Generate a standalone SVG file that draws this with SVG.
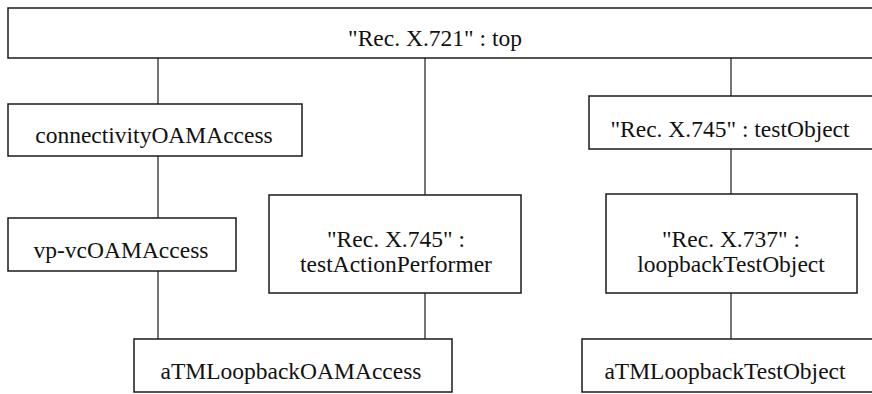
<svg xmlns="http://www.w3.org/2000/svg" width="872" height="394" viewBox="0 0 872 394">
<style>
.box{fill:#fff;stroke:#1a1a1a;stroke-width:1.5}
.ln{stroke:#1a1a1a;stroke-width:1.2;fill:none}
.t{font-size:23.5px;fill:#111;text-anchor:middle}
</style>
<rect width="872" height="394" fill="#fff"/>
<g id="connectors">
<line class="ln" x1="158" y1="58" x2="158" y2="104"/>
<line class="ln" x1="158" y1="156" x2="158" y2="218"/>
<line class="ln" x1="158" y1="271" x2="158" y2="339"/>
<line class="ln" x1="425" y1="58" x2="425" y2="195"/>
<line class="ln" x1="425" y1="293" x2="425" y2="339"/>
<line class="ln" x1="731" y1="58" x2="731" y2="96"/>
<line class="ln" x1="731" y1="149" x2="731" y2="194"/>
<line class="ln" x1="731" y1="293" x2="731" y2="339"/>
</g>
<g font-family="Liberation Serif, DejaVu Serif, serif">
<g id="top">
<rect class="box" x="8" y="8" width="870" height="50"/>
<text class="t" x="435" y="46">"Rec. X.721" : top</text>
</g>
<g id="connectivityOAMAccess">
<rect class="box" x="8" y="104" width="294" height="52"/>
<text class="t" x="154" y="143">connectivityOAMAccess</text>
</g>
<g id="vp-vcOAMAccess">
<rect class="box" x="8" y="218" width="228" height="53"/>
<text class="t" x="121" y="258">vp-vcOAMAccess</text>
</g>
<g id="testActionPerformer">
<rect class="box" x="269" y="195" width="252" height="98"/>
<text class="t" x="396" y="247">"Rec. X.745" :</text>
<text class="t" x="396" y="272">testActionPerformer</text>
</g>
<g id="testObject">
<rect class="box" x="589" y="96" width="290" height="53"/>
<text class="t" x="730" y="137">"Rec. X.745" : testObject</text>
</g>
<g id="loopbackTestObject">
<rect class="box" x="606" y="194" width="251" height="99"/>
<text class="t" x="731" y="247">"Rec. X.737" :</text>
<text class="t" x="731" y="272">loopbackTestObject</text>
</g>
<g id="aTMLoopbackOAMAccess">
<rect class="box" x="134" y="339" width="318" height="53"/>
<text class="t" x="291" y="379">aTMLoopbackOAMAccess</text>
</g>
<g id="aTMLoopbackTestObject">
<rect class="box" x="582" y="339" width="297" height="53"/>
<text class="t" x="725" y="379">aTMLoopbackTestObject</text>
</g>
</g>
</svg>
